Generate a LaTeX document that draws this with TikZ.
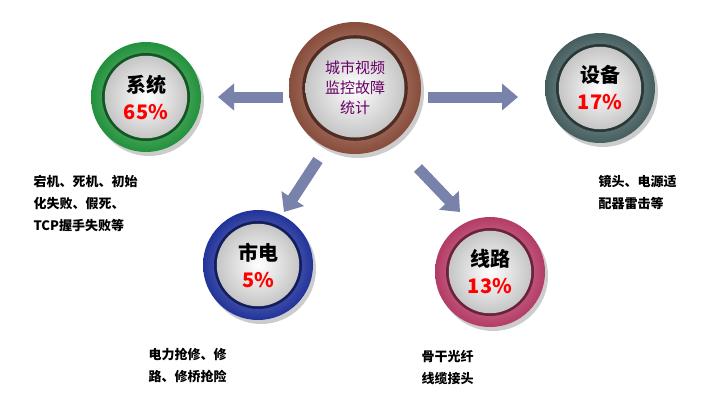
\documentclass[tikz,border=0pt]{standalone}
\usepackage{fontspec}
\setmainfont{Noto Sans CJK SC}
\usetikzlibrary{arrows.meta,shadings}
\definecolor{arr}{RGB}{120,130,170}
\definecolor{cbrown}{RGB}{160,90,70}
\definecolor{cgreen}{RGB}{40,170,70}
\definecolor{cteal}{RGB}{80,110,110}
\definecolor{cblue}{RGB}{40,60,180}
\definecolor{cpink}{RGB}{210,70,120}
\tikzset{
 ring/.style={circle,minimum size=#1},
 lbl/.style={font=\fontsize{13}{16}\selectfont\bfseries,anchor=west,align=left},
 badgetxt/.style={align=center,font=\fontsize{20}{27}\selectfont\bfseries},
 bigarrow/.style={-{Triangle[length=16pt,width=26pt]},line width=11pt,draw=arr}
}
\newcommand{\badge}[5]{% name, x, y, radius, color
 \fill[gray!40] (#2+3,#3+4) circle (#4);
 \shade[inner color=#5!50,outer color=#5!85!black] (#2,#3) circle (#4);
 \fill[#5!50!black] (#2,#3) circle (#4*0.80);
 \shade[inner color=white,outer color=gray!45] (#2,#3) circle (#4*0.75);
 \node[ring=2*#4] (#1) at (#2,#3) {};
}
\begin{document}
\begin{tikzpicture}[x=1pt,y=-1pt]
\useasboundingbox (0,0) rectangle (717,404);
\fill[white] (0,0) rectangle (717,404);
\badge{c}{355}{88}{66}{cbrown}
\badge{s}{146}{97}{55}{cgreen}
\badge{d}{600}{88}{55}{cteal}
\badge{p}{258}{265}{55}{cblue}
\badge{l}{490}{272}{55}{cpink}
\node[font=\fontsize{15}{20}\selectfont,text=violet!80!black,align=center] at (c) {城市视频\\监控故障\\统计};
\node[badgetxt] at (s) {系统\\\textcolor{red}{65\%}};
\node[badgetxt] at (d) {设备\\\textcolor{red}{17\%}};
\node[badgetxt] at (p) {市电\\\textcolor{red}{5\%}};
\node[badgetxt] at (l) {线路\\\textcolor{red}{13\%}};
\coordinate (a1s) at (283,97); \coordinate (a1e) at (218,97);
\coordinate (a2s) at (428,97); \coordinate (a2e) at (518,97);
\coordinate (a3s) at (318,160); \coordinate (a3e) at (284,212);
\coordinate (a4s) at (418,168); \coordinate (a4e) at (460,212);
\draw[bigarrow] (a1s) -- (a1e);
\draw[bigarrow] (a2s) -- (a2e);
\draw[bigarrow] (a3s) -- (a3e);
\draw[bigarrow] (a4s) -- (a4e);
\node[lbl] (t1) at (30,204) {宕机、死机、初始\\[6pt]化失败、假死、\\[6pt]TCP握手失败等};
\node[lbl] (t2) at (595,192) {镜头、电源适\\[6pt]配器雷击等};
\node[lbl] (t3) at (145,365) {电力抢修、修\\[6pt]路、修桥抢险};
\node[lbl] (t4) at (418,368) {骨干光纤\\[6pt]线缆接头};
\end{tikzpicture}
\end{document}
